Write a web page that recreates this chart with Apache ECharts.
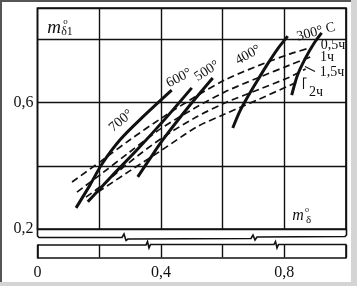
<!DOCTYPE html>
<html>
<head>
<meta charset="utf-8">
<script src="https://cdn.jsdelivr.net/npm/echarts@6/dist/echarts.min.js"></script>
<style>
  html, body { margin: 0; padding: 0; background: #fff; }
  #chart { width: 357px; height: 286px; }
</style>
</head>
<body>
<div id="chart"></div>
<script>
// tick labels
var xTickLabels = [0, 0.4, 0.8];
var yTickLabels = [0.2, 0.6];

// isotherms (solid), [m_delta, m_delta1]
var temp700 = [[0.125, 0.267], [0.170, 0.339], [0.209, 0.406], [0.267, 0.482], [0.338, 0.552], [0.435, 0.640]];
var temp600 = [[0.163, 0.286], [0.241, 0.368], [0.322, 0.450], [0.413, 0.548], [0.500, 0.647]];
var temp500 = [[0.325, 0.365], [0.364, 0.422], [0.406, 0.482], [0.484, 0.580], [0.568, 0.678]];
var temp400 = [[0.633, 0.520], [0.655, 0.571], [0.681, 0.618], [0.714, 0.672], [0.746, 0.723], [0.778, 0.770], [0.811, 0.811]];
var temp300 = [[0.824, 0.624], [0.843, 0.688], [0.869, 0.742], [0.895, 0.786], [0.921, 0.821]];

// holding time (dashed)
var time05 = [[0.112, 0.349], [0.206, 0.415], [0.299, 0.482], [0.403, 0.552], [0.510, 0.618], [0.607, 0.672], [0.720, 0.719], [0.817, 0.754], [0.892, 0.776]];
var time1 = [[0.128, 0.317], [0.206, 0.374], [0.299, 0.444], [0.403, 0.520], [0.510, 0.583], [0.607, 0.634], [0.720, 0.681], [0.817, 0.719], [0.885, 0.745]];
var time15 = [[0.157, 0.301], [0.206, 0.336], [0.299, 0.412], [0.403, 0.488], [0.510, 0.552], [0.607, 0.599], [0.720, 0.643], [0.817, 0.681], [0.869, 0.707]];
var time2 = [[0.196, 0.317], [0.299, 0.384], [0.403, 0.450], [0.516, 0.523], [0.607, 0.564], [0.720, 0.612], [0.843, 0.666]];

var ink = '#111';
var serif = '"Liberation Serif", "DejaVu Serif", serif';

function hasTick(list, v) {
    for (var i = 0; i < list.length; i++) {
        if (Math.abs(list[i] - v) < 1e-6) return true;
    }
    return false;
}
function comma(v) {
    return String(Math.round(v * 10) / 10).replace('.', ',');
}

function solid(name, data) {
    return {
        name: name, type: 'line', data: data, xAxisIndex: 0, yAxisIndex: 0,
        showSymbol: false, smooth: 0.3, silent: true,
        lineStyle: { color: ink, width: 3 }
    };
}
function dashed(name, data) {
    return {
        name: name, type: 'line', data: data, xAxisIndex: 0, yAxisIndex: 0,
        showSymbol: false, smooth: 0.3, silent: true,
        lineStyle: { color: ink, width: 1.7, type: [7, 4] }
    };
}
function txt(s, x, y, size, rot, extra) {
    var o = {
        type: 'text', x: x, y: y, rotation: (rot || 0) * Math.PI / 180, z: 50,
        style: { text: s, fill: ink, font: size + 'px ' + serif, align: 'center', verticalAlign: 'middle' }
    };
    if (extra) o.style.font = extra + ' ' + o.style.font;
    return o;
}
function pline(pts, w) {
    return { type: 'polyline', z: 50, shape: { points: pts }, style: { stroke: ink, lineWidth: w || 1.6, fill: null } };
}

var chart = echarts.init(document.getElementById('chart'));
var gridLine = { show: true, lineStyle: { color: ink, width: 1.4 } };

chart.setOption({
    animation: false,
    backgroundColor: '#d4d4d4',
    grid: [
        { left: 37.5, right: 11, top: 8, bottom: 57, show: true, borderColor: ink, borderWidth: 1.7, outerBoundsMode: 'none' },
        { left: 37.5, right: 11, top: 245, bottom: 28.5, outerBoundsMode: 'none' }
    ],
    xAxis: [
        {
            gridIndex: 0, type: 'value', min: 0, max: 1, interval: 0.2,
            axisLine: { show: false }, axisTick: { show: false }, axisLabel: { show: false },
            splitLine: gridLine
        },
        {
            gridIndex: 1, type: 'value', min: 0, max: 1, interval: 0.2,
            axisLine: { show: true, lineStyle: { color: ink, width: 1.6 } },
            axisTick: { show: false },
            axisLabel: {
                margin: 7, color: ink, fontFamily: serif, fontSize: 16,
                formatter: function (v) { return hasTick(xTickLabels, v) ? comma(v) : ''; }
            },
            splitLine: gridLine
        }
    ],
    yAxis: [
        {
            gridIndex: 0, type: 'value', min: 0.2, max: 0.9, interval: 0.2,
            axisLine: { show: false }, axisTick: { show: false },
            axisLabel: {
                margin: 4, color: ink, fontFamily: serif, fontSize: 16,
                formatter: function (v) { return hasTick(yTickLabels, v) ? comma(v) : ''; }
            },
            splitLine: gridLine
        },
        {
            gridIndex: 1, type: 'value', min: 0, max: 1,
            axisLine: { show: true, lineStyle: { color: ink, width: 1.6 } },
            axisTick: { show: false }, axisLabel: { show: false }, splitLine: { show: false }
        },
        {
            gridIndex: 1, type: 'value', min: 0, max: 1, position: 'right',
            axisLine: { show: true, lineStyle: { color: ink, width: 1.6 } },
            axisTick: { show: false }, axisLabel: { show: false }, splitLine: { show: false }
        }
    ],
    graphic: [
        { type: 'rect', z: -100, shape: { x: 0, y: 0, width: 351, height: 282 }, style: { fill: '#fff' } },
        { type: 'polyline', z: -90, shape: { points: [[1, 282], [1, 1], [351, 1]] }, style: { stroke: '#555', lineWidth: 2, fill: null } },
        // axis break
        pline([[37.5, 229], [37.5, 236], [39, 237.5], [122, 237.5], [124, 234], [126, 240.5], [128, 239], [251, 238.5], [253, 235], [255, 240], [257, 237], [345, 236.5], [346.5, 235], [346.5, 229]]),
        pline([[37.5, 245], [146, 245], [147.5, 241.5], [149, 248], [150.5, 244.5], [274, 244.5], [275.5, 241.5], [277, 248], [278.5, 244.5], [346.5, 244.5]]),
        // axis titles
        txt('m', 54, 28, 19, 0, 'italic'),
        txt('o', 65.5, 22, 9),
        txt('δ1', 67, 32, 12),
        txt('m', 298, 216, 16, 0, 'italic'),
        txt('o', 307, 210, 8),
        txt('δ', 308.5, 220, 11),
        // isotherm labels
        txt('700°', 121, 121, 14, 40),
        txt('600°', 179, 78, 14, 28),
        txt('500°', 207, 71, 14, 33),
        txt('400°', 248, 55, 14, 29),
        txt('300° C', 316, 32, 14, 15),
        // time labels
        txt('0,5ч', 333, 45, 14),
        txt('1ч', 327, 57, 14),
        txt('1,5ч', 332, 72.5, 14),
        txt('2ч', 316, 92, 14),
        pline([[305, 66.5], [315, 71.5]], 1.1),
        pline([[306.5, 78], [303.5, 78], [303.5, 89]], 1.1)
    ],
    series: [
        solid('700°', temp700),
        solid('600°', temp600),
        solid('500°', temp500),
        solid('400°', temp400),
        solid('300°', temp300),
        dashed('0,5ч', time05),
        dashed('1ч', time1),
        dashed('1,5ч', time15),
        dashed('2ч', time2)
    ]
});
</script>
</body>
</html>
